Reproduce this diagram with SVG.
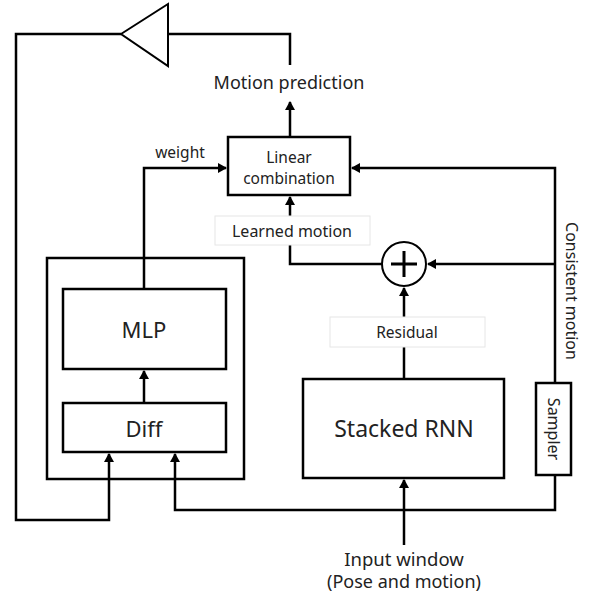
<svg xmlns="http://www.w3.org/2000/svg" width="593" height="597" viewBox="0 0 593 597">
<style>
.box{fill:#fff;stroke:#000;stroke-width:2.5}
.lbl{fill:#fff;stroke:#e6e6e6;stroke-width:1}
.ln{fill:none;stroke:#000;stroke-width:2.5}
text{font-family:"Noto Sans","Open Sans",sans-serif;fill:#222;text-anchor:middle}
</style>
<defs>
<marker id="ah" markerWidth="10" markerHeight="10" refX="8" refY="5" orient="auto" markerUnits="userSpaceOnUse">
<path d="M0,0 L9,5 L0,10 Z" fill="#000"/>
</marker>
</defs>
<rect width="593" height="597" fill="#fff"/>
<g id="connectors">
<polyline class="ln" points="290,65 290,34 168,34"/>
<polyline class="ln" points="121,34 16,34 16,520 109,520 109,454" marker-end="url(#ah)"/>
<line class="ln" x1="290" y1="137" x2="290" y2="102" marker-end="url(#ah)"/>
<polyline class="ln" points="144,289 144,168 226,168" marker-end="url(#ah)"/>
<line class="ln" x1="144" y1="403" x2="144" y2="371" marker-end="url(#ah)"/>
<polyline class="ln" points="555,475 555,510 175,510 175,454" marker-end="url(#ah)"/>
<polyline class="ln" points="555,383 555,168 352,168" marker-end="url(#ah)"/>
<line class="ln" x1="555" y1="264" x2="428" y2="264" marker-end="url(#ah)"/>
<polyline class="ln" points="382,264 290,264 290,197" marker-end="url(#ah)"/>
<line class="ln" x1="404" y1="379" x2="404" y2="288" marker-end="url(#ah)"/>
<line class="ln" x1="404" y1="545" x2="404" y2="480" marker-end="url(#ah)"/>
</g>
<g id="triangle"><polygon points="121,34 168,4 168,66" fill="#fff" stroke="#000" stroke-width="2"/></g>
<g id="motion-prediction"><text x="289" y="89" font-size="18">Motion prediction</text></g>
<g id="linear-combination">
<rect class="box" x="228" y="137" width="122" height="58" stroke-width="2"/>
<text x="289" y="163" font-size="15.5">Linear</text>
<text x="289" y="184" font-size="15.5">combination</text>
</g>
<g id="weight-label"><text x="180" y="158" font-size="15.5">weight</text></g>
<g id="learned-motion">
<rect class="lbl" x="215" y="216" width="155" height="29"/>
<text x="292" y="237" font-size="16">Learned motion</text>
</g>
<g id="plus">
<circle cx="404" cy="264" r="22" fill="#fff" stroke="#000" stroke-width="2"/>
<path d="M391,264 H417 M404,251 V277" stroke="#000" stroke-width="3"/>
</g>
<g id="residual">
<rect class="lbl" x="330" y="317" width="155" height="30"/>
<text x="407" y="338" font-size="15.5">Residual</text>
</g>
<g id="outer-box"><rect x="47" y="258" width="197" height="221" fill="none" stroke="#000" stroke-width="2.5"/></g>
<g id="mlp">
<rect class="box" x="63" y="289" width="163" height="80"/>
<text x="144" y="338" font-size="22">MLP</text>
</g>
<g id="diff">
<rect class="box" x="63" y="403" width="163" height="49"/>
<text x="144" y="437" font-size="22">Diff</text>
</g>
<g id="stacked-rnn">
<rect class="box" x="303" y="379" width="201" height="99"/>
<text x="404" y="437" font-size="23">Stacked RNN</text>
</g>
<g id="sampler">
<rect class="box" x="536" y="383" width="35" height="92" stroke-width="2"/>
<text x="0" y="0" font-size="16" transform="translate(548,429) rotate(90)">Sampler</text>
</g>
<g id="consistent-motion"><text x="0" y="0" font-size="16" transform="translate(566,291) rotate(90)">Consistent motion</text></g>
<g id="input-window">
<text x="404" y="566" font-size="18.5">Input window</text>
<text x="404" y="588" font-size="18">(Pose and motion)</text>
</g>
</svg>
